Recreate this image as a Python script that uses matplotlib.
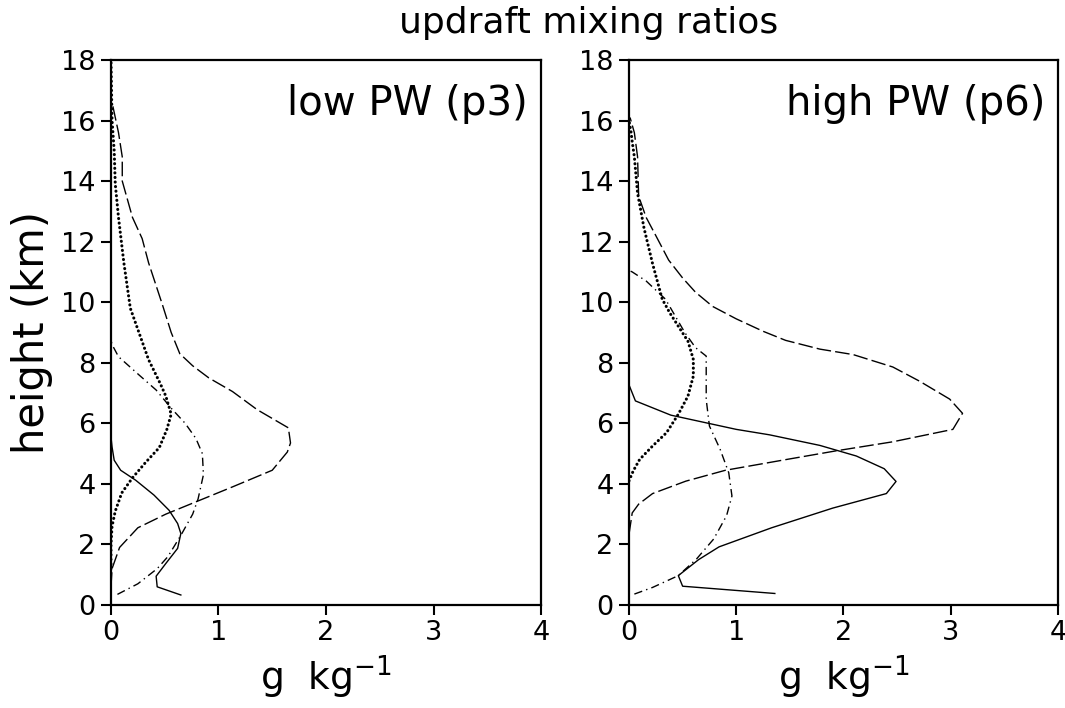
import matplotlib
matplotlib.use("Agg")
import matplotlib.pyplot as plt

plt.rcParams['font.family'] = ['DejaVu Sans']
plt.rcParams['lines.scale_dashes'] = False

# ---- low PW (p3) profiles: mixing ratio (g/kg) vs height (km) ----
low_solid_x = [0.65, 0.43, 0.42, 0.51, 0.62, 0.65, 0.62, 0.54, 0.40, 0.23, 0.09, 0.03, 0.01, 0.0]
low_solid_z = [0.33, 0.60, 0.95, 1.37, 1.87, 2.36, 2.69, 3.13, 3.63, 4.12, 4.45, 4.78, 5.22, 5.55]

low_dash_x = [0.0, 0.01, 0.08, 0.25, 0.51, 0.82, 1.13, 1.50, 1.64, 1.67, 1.65, 1.36, 1.13, 0.91,
              0.76, 0.64, 0.56, 0.48, 0.35, 0.29, 0.20, 0.105, 0.105, 0.07, 0.01]
low_dash_z = [0.6, 1.2, 1.9, 2.55, 3.0, 3.45, 3.9, 4.45, 5.05, 5.35, 5.85, 6.45, 7.05, 7.5,
              7.9, 8.3, 9.0, 9.9, 11.3, 12.1, 12.8, 14.0, 14.8, 15.6, 16.6]

low_dashdot_x = [0.06, 0.25, 0.43, 0.53, 0.65, 0.76, 0.81, 0.86, 0.85, 0.79, 0.69, 0.56, 0.42,
                 0.26, 0.07, 0.01, 0.0]
low_dashdot_z = [0.35, 0.70, 1.2, 1.6, 2.3, 3.0, 3.5, 4.3, 5.0, 5.5, 6.0, 6.5, 7.1,
                 7.6, 8.2, 8.6, 8.75]

low_dot_x = [0.0, 0.0, 0.01, 0.04, 0.10, 0.20, 0.32, 0.45, 0.52, 0.56, 0.51, 0.46, 0.35, 0.26,
             0.18, 0.12, 0.07, 0.04, 0.03, 0.01, 0.0]
low_dot_z = [1.2, 2.0, 2.6, 3.1, 3.7, 4.2, 4.7, 5.2, 5.8, 6.3, 6.9, 7.3, 8.1, 9.0,
             9.8, 11.3, 12.8, 13.9, 15.0, 16.0, 18.0]

# ---- high PW (p6) profiles ----
high_solid_x = [1.36, 0.50, 0.46, 0.65, 0.84, 1.33, 1.90, 2.40, 2.49, 2.38, 2.12, 1.78, 1.31,
                1.00, 0.39, 0.06, 0.0]
high_solid_z = [0.38, 0.62, 0.97, 1.50, 1.92, 2.55, 3.20, 3.68, 4.08, 4.50, 4.92, 5.27, 5.62,
                5.80, 6.27, 6.74, 7.27]

high_dash_x = [0.0, 0.03, 0.09, 0.22, 0.53, 0.90, 1.46, 1.93, 2.46, 3.02, 3.11, 2.99, 2.71, 2.46,
               2.09, 1.78, 1.46, 1.25, 1.00, 0.78, 0.62, 0.50, 0.37, 0.25, 0.16, 0.09, 0.08,
               0.05, 0.01]
high_dash_z = [2.33, 3.04, 3.33, 3.68, 4.09, 4.45, 4.80, 5.09, 5.39, 5.80, 6.33, 6.80, 7.39, 7.86,
               8.27, 8.45, 8.74, 9.04, 9.45, 9.86, 10.33, 10.8, 11.39, 12.2, 12.8, 13.5, 14.8,
               15.6, 16.1]

high_dashdot_x = [0.05, 0.22, 0.46, 0.63, 0.79, 0.91, 0.96, 0.93, 0.85, 0.75, 0.72, 0.72, 0.62,
                  0.52, 0.34, 0.16, 0.03, 0.0]
high_dashdot_z = [0.36, 0.58, 0.97, 1.52, 2.18, 2.95, 3.60, 4.37, 5.14, 5.91, 6.79, 8.22, 8.50,
                  9.00, 10.1, 10.7, 11.0, 11.05]

high_dot_x = [0.0, 0.04, 0.10, 0.22, 0.35, 0.46, 0.55, 0.60, 0.60, 0.55, 0.47, 0.38, 0.31, 0.22,
              0.14, 0.08, 0.05, 0.03, 0.02, 0.0]
high_dot_z = [4.10, 4.43, 4.81, 5.25, 5.69, 6.30, 6.90, 7.56, 8.11, 8.71, 9.15, 9.65, 10.1, 11.27,
              12.45, 13.6, 14.8, 15.3, 15.6, 16.0]

panel_titles = ["low PW (p3)", "high PW (p6)"]
x_ticks = [0, 1, 2, 3, 4]
y_ticks = [0, 2, 4, 6, 8, 10, 12, 14, 16, 18]

panels = [
    dict(solid=(low_solid_x, low_solid_z), dash=(low_dash_x, low_dash_z),
         dashdot=(low_dashdot_x, low_dashdot_z), dot=(low_dot_x, low_dot_z)),
    dict(solid=(high_solid_x, high_solid_z), dash=(high_dash_x, high_dash_z),
         dashdot=(high_dashdot_x, high_dashdot_z), dot=(high_dot_x, high_dot_z)),
]

styles = {
    'solid': dict(linestyle='-', linewidth=1.0),
    'dash': dict(linestyle=(0, (10.5, 3.0)), linewidth=1.0),
    'dashdot': dict(linestyle=(0, (6.0, 3.0, 1.0, 3.0)), linewidth=1.0),
    'dot': dict(linestyle=(0, (0.1, 3.2)), linewidth=2.2, dash_capstyle='round'),
}

fig = plt.figure(figsize=(10.65, 7.08), dpi=100)
axes_rects = [[0.1042, 0.1455, 0.4038, 0.7698], [0.5906, 0.1455, 0.4028, 0.7698]]

for rect, data, title in zip(axes_rects, panels, panel_titles):
    ax = fig.add_axes(rect)
    for key in ['dash', 'dashdot', 'dot', 'solid']:
        xs, zs = data[key]
        ax.plot(xs, zs, color='black', **styles[key])
    ax.set_xlim(0, 4)
    ax.set_ylim(0, 18)
    ax.set_xticks(x_ticks)
    ax.set_yticks(y_ticks)
    ax.tick_params(direction='out', length=7, width=1.5, labelsize=19.5, pad=4)
    for sp in ax.spines.values():
        sp.set_linewidth(1.6)
    ax.text(0.97, 0.955, title, transform=ax.transAxes, ha='right', va='top', fontsize=29)
    ax.set_xlabel(r'g  kg$^{-1}$', fontsize=27, labelpad=5)

fig.axes[0].set_ylabel('height (km)', fontsize=30, labelpad=6)
fig.text(0.553, 0.967, 'updraft mixing ratios', ha='center', va='center', fontsize=26)

fig.savefig('out.png', dpi=100)
